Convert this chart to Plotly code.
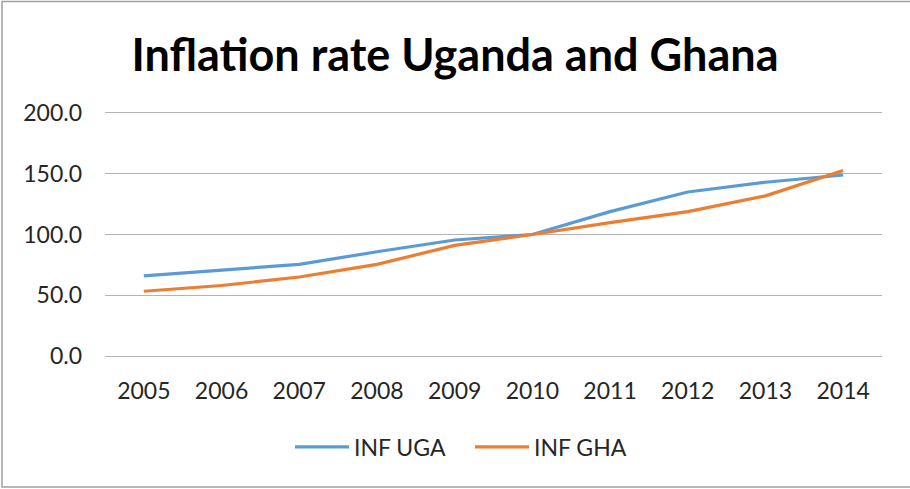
import plotly.graph_objects as go

years = ["2005", "2006", "2007", "2008", "2009", "2010", "2011", "2012", "2013", "2014"]
inf_uga = [66.0, 70.7, 75.4, 85.8, 95.5, 100.0, 118.8, 135.0, 143.0, 149.0]
inf_gha = [53.3, 58.0, 65.0, 75.4, 91.0, 100.0, 109.8, 118.8, 131.8, 152.7]
y_ticks = [0, 50, 100, 150, 200]

W, H = 910, 489
L, R, T, B = 105, 28, 113, 133
pw, ph = W - L - R, H - T - B
GRID = "#B3B3B3"

fig = go.Figure()
fig.add_trace(go.Scatter(x=years, y=inf_uga, mode="lines", name="INF UGA",
                         line=dict(color="#5B9BD5", width=3.2)))
fig.add_trace(go.Scatter(x=years, y=inf_gha, mode="lines", name="INF GHA",
                         line=dict(color="#ED7D31", width=3.2)))

def px_x(p):
    return (p - L) / pw

def px_y(p):
    return 1 - (p - T) / ph

fig.add_shape(type="rect", xref="paper", yref="paper",
              x0=px_x(2), x1=px_x(912), y0=px_y(487), y1=px_y(1.5),
              line=dict(color="#A0A0A0", width=1.5), layer="below")

fig.update_layout(
    width=W, height=H,
    margin=dict(l=L, r=R, t=T, b=B),
    paper_bgcolor="white", plot_bgcolor="white",
    font=dict(family="Lato", color="#262626", size=23),
    title=dict(text="<b>Inflation rate Uganda and Ghana</b>",
               x=0.5, xref="container", xanchor="center",
               y=1 - 55 / H, yref="container", yanchor="middle",
               font=dict(family="Lato", size=45, color="black")),
    xaxis=dict(showgrid=False, showline=True, mirror=True, linecolor=GRID,
               linewidth=1.2, ticks="", zeroline=False,
               ticklabelstandoff=14, tickfont=dict(size=23), range=[-0.5, 9.5]),
    yaxis=dict(range=[0, 200], tickvals=y_ticks, tickformat=".1f",
               showgrid=True, gridcolor=GRID, gridwidth=1.2,
               zeroline=False, showline=False, ticks="",
               ticklabelstandoff=22, tickfont=dict(size=23)),
    legend=dict(orientation="h", x=(455 + 15) / W, xanchor="center", xref="container",
                y=1 - 447 / H, yanchor="middle", yref="container",
                font=dict(size=23), itemwidth=54, tracegroupgap=0,
                entrywidth=111),
    showlegend=True,
)

fig.write_html("out.html", config={"displayModeBar": False},
               post_script="document.body.style.margin='0';")
